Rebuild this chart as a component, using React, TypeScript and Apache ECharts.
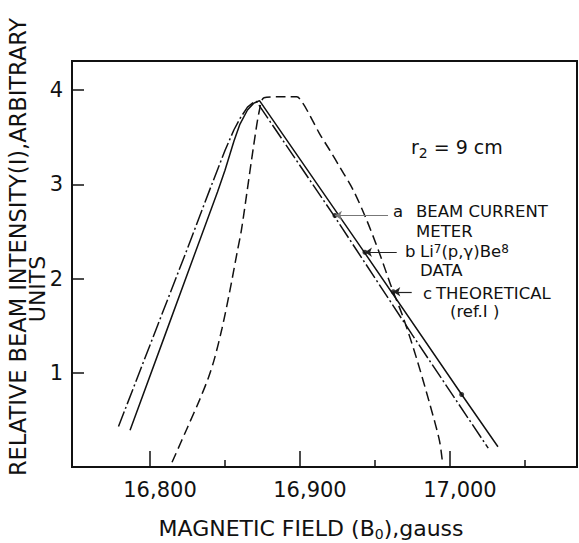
import React, { useEffect, useRef } from "react";
import * as echarts from "echarts";

const FONT = "'DejaVu Sans', 'Liberation Sans', sans-serif";
const INK = "#111";

// Axis range (gauss) and intensity range
const fieldMin = 16748;
const fieldMax = 17084.7;
const intensityMax = 4.31;
const majorFieldTicks = [16800, 16900, 17000];
const minorFieldTicks = [16850, 16950, 17050];
const intensityTicks = [1, 2, 3, 4];

// (a) beam current meter  – dash-dot
const meterField = [16779, 16805, 16824.5, 16840, 16850, 16856, 16860, 16865, 16869, 16871, 16923, 16975, 17025.5];
const meterIntensity = [0.43, 1.5, 2.3, 2.95, 3.36, 3.58, 3.7, 3.82, 3.87, 3.88, 2.66, 1.4, 0.2];

// (b) Li7(p,γ)Be8 data – solid
const dataField = [16786.7, 16810, 16833, 16845, 16850, 16856, 16860, 16865, 16869, 16873, 16943.3, 17007.8, 17032];
const dataIntensity = [0.39, 1.4, 2.4, 2.92, 3.15, 3.46, 3.64, 3.79, 3.86, 3.89, 2.27, 0.77, 0.215];

// (c) theoretical – dashed
const theoryField = [16814.7, 16825, 16833, 16839, 16843, 16848, 16853, 16858, 16861, 16864.5, 16869, 16873, 16876, 16886, 16897.8, 16902, 16907, 16913, 16920, 16926.7, 16935.5, 16944.5, 16953, 16961, 16969, 16977.8, 16986.7, 16993, 16995];
const theoryIntensity = [0.05, 0.42, 0.71, 0.95, 1.15, 1.47, 1.85, 2.27, 2.52, 2.9, 3.4, 3.79, 3.92, 3.93, 3.93, 3.86, 3.72, 3.54, 3.36, 3.18, 2.94, 2.62, 2.27, 1.91, 1.58, 1.15, 0.66, 0.28, 0.05];

// marked points on the curves
const dotField = [16923.3, 16943.3, 16962.2, 17007.8];
const dotIntensity = [2.67, 2.28, 1.86, 0.77];

// label leader arrows (tip on curve -> label side)
const arrowTipField = [16923.3, 16943.3, 16962.2];
const arrowEndField = [16958.7, 16964.5, 16974.5];
const arrowIntensity = [2.67, 2.28, 1.86];
const arrowColors = ["#777", "#222", "#222"];

const zip = (xs: number[], ys: number[]) => xs.map((x, i) => [x, ys[i]]);

export default function App() {
  const ref = useRef<HTMLDivElement>(null);
  useEffect(() => {
    if (!ref.current) return;
    const chart = echarts.init(ref.current, null, { renderer: "svg" });
    const sub = { fontSize: 14, fontFamily: FONT, color: INK, verticalAlign: "bottom", lineHeight: 26 };
    const sup = { fontSize: 12, fontFamily: FONT, color: INK, verticalAlign: "top", lineHeight: 17 };
    const txt = (text: string, x: number, y: number, size: number, extra: any = {}) => ({
      type: "text",
      x,
      y,
      silent: true,
      ...extra,
      style: {
        text,
        fill: INK,
        font: `${size}px ${FONT}`,
        textAlign: "left",
        textVerticalAlign: "middle",
        ...(extra.style || {}),
      },
    });
    const lab = (text: string, x: number, y: number, extraStyle: any = {}) =>
      txt(text, x, y, 16.5, { style: { lineHeight: 17, ...extraStyle } });
    const lineBase = { type: "line", showSymbol: false, silent: true, animation: false, smooth: false };
    chart.setOption({
      animation: false,
      backgroundColor: "#fff",
      grid: { left: 72, top: 61, right: 2, bottom: 76, show: true, borderColor: INK, borderWidth: 2, backgroundColor: "transparent" },
      xAxis: [
        {
          type: "value",
          min: fieldMin,
          max: fieldMax,
          position: "bottom",
          axisLine: { show: true, lineStyle: { color: INK, width: 2 } },
          splitLine: { show: false },
          axisTick: { show: true, inside: true, length: 16, customValues: majorFieldTicks, lineStyle: { color: INK, width: 1.5 } },
          axisLabel: {
            show: true,
            customValues: majorFieldTicks,
            margin: 12,
            color: INK,
            fontFamily: FONT,
            fontSize: 21,
            padding: [0, 0, 0, 20],
            formatter: (v: number) => v.toLocaleString("en-US"),
          },
        },
        {
          type: "value",
          min: fieldMin,
          max: fieldMax,
          position: "bottom",
          axisLine: { show: false },
          splitLine: { show: false },
          axisTick: { show: true, inside: true, length: 7, customValues: minorFieldTicks, lineStyle: { color: INK, width: 1.5 } },
          axisLabel: { show: false },
        },
      ],
      yAxis: {
        type: "value",
        min: 0,
        max: intensityMax,
        axisLine: { show: true, lineStyle: { color: INK, width: 2 } },
        splitLine: { show: false },
        axisTick: { show: true, inside: true, length: 12, customValues: intensityTicks, lineStyle: { color: INK, width: 1.5 } },
        axisLabel: { show: true, customValues: intensityTicks, margin: 9, color: INK, fontFamily: FONT, fontSize: 21 },
      },
      series: [
        { ...lineBase, name: "a", data: zip(meterField, meterIntensity), lineStyle: { color: INK, width: 1.5, type: [16, 3, 2, 3] } },
        { ...lineBase, name: "b", data: zip(dataField, dataIntensity), lineStyle: { color: INK, width: 1.5, type: "solid" } },
        { ...lineBase, name: "c", smooth: 0.3, data: zip(theoryField, theoryIntensity), lineStyle: { color: INK, width: 1.5, type: [10, 5] } },
        {
          type: "scatter",
          silent: true,
          symbolSize: 5,
          itemStyle: { color: INK },
          data: zip(dotField, dotIntensity),
          markLine: {
            silent: true,
            animation: false,
            symbol: ["arrow", "none"],
            symbolSize: 7,
            label: { show: false },
            data: arrowTipField.map((x, i) => [
              { coord: [x, arrowIntensity[i]], lineStyle: { color: arrowColors[i], width: 1.2, type: "solid" } },
              { coord: [arrowEndField[i], arrowIntensity[i]] },
            ]),
          },
        },
      ],
      graphic: [
        txt("RELATIVE BEAM INTENSITY(I),ARBITRARY", 18, 247, 22.5, { rotation: Math.PI / 2, style: { textAlign: "center" } }),
        txt("UNITS", 37, 289, 22, { rotation: Math.PI / 2, style: { textAlign: "center" } }),
        txt("MAGNETIC FIELD (B{sub|0}),gauss", 311, 528, 22, { style: { textAlign: "center", rich: { sub } } }),
        txt("r{sub|2} = 9 cm", 411, 147, 19, { style: { rich: { sub } } }),
        lab("a", 393, 211),
        lab("BEAM CURRENT", 416, 211),
        lab("METER", 416, 231),
        lab("b", 405, 251),
        lab("Li{sup|7}(p,γ)Be{sup|8}", 420, 251, { rich: { sup } }),
        lab("DATA", 420, 270),
        lab("c", 423, 293),
        lab("THEORETICAL", 436, 293),
        lab("(ref.I )", 450, 311),
      ],
    });
    return () => chart.dispose();
  }, []);
  return <div ref={ref} style={{ width: 579, height: 543, position: "absolute", left: 0, top: 0, background: "#fff" }} />;
}
